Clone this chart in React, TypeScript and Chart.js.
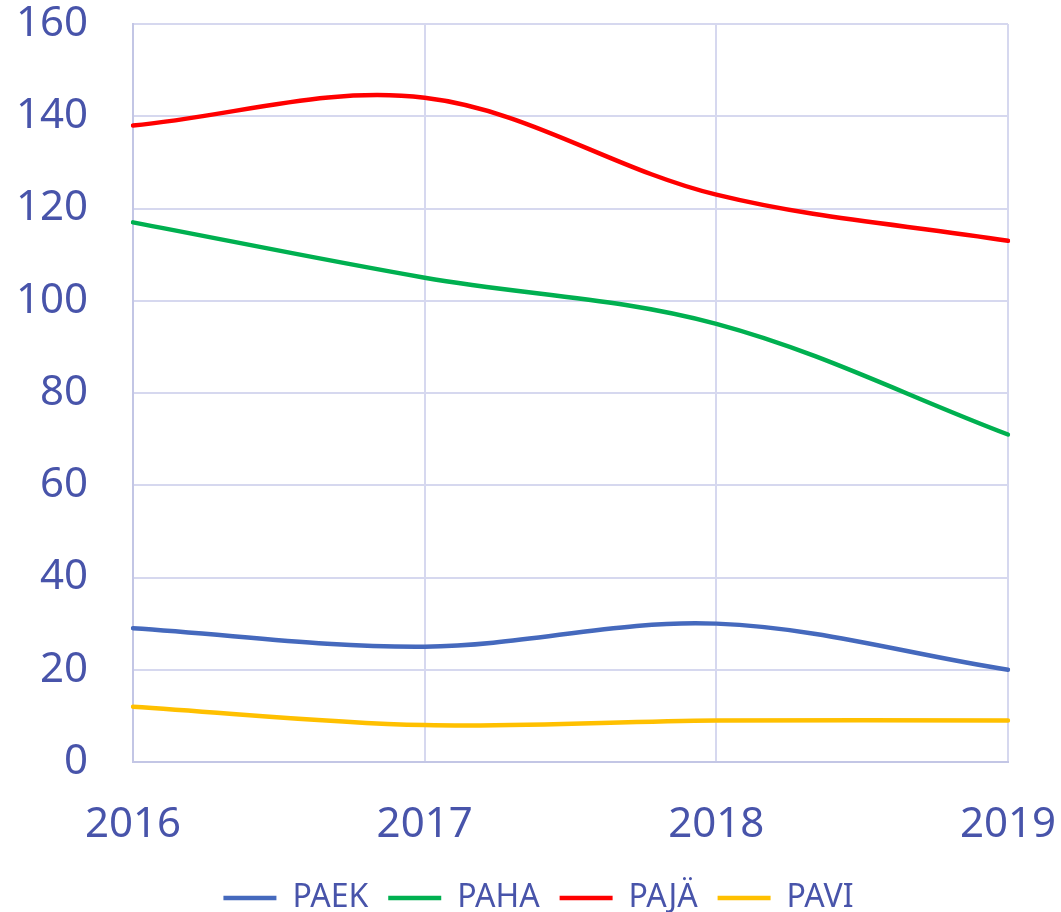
import React, { useEffect, useRef } from "react";
import { Chart, registerables } from "chart.js";

Chart.register(...registerables);

const years = ["2016", "2017", "2018", "2019"];
const paek = [29, 25, 30, 20];
const paha = [117, 105, 95, 71];
const paja = [138, 144, 123, 113];
const pavi = [12, 8, 9, 9];

const TEXT = "#4854aa";
const GRID = "#d6d8ef";
const AXIS = "#c3c6e5";

export default function App() {
  const ref = useRef<HTMLCanvasElement | null>(null);
  useEffect(() => {
    if (!ref.current) return;
    const mk = (label: string, data: number[], color: string) => ({
      label,
      data,
      borderColor: color,
      backgroundColor: color,
      borderWidth: 4.5,
      borderCapStyle: "round" as const,
      pointRadius: 0,
      pointHoverRadius: 0,
      pointStyle: "line" as const,
      tension: 0.35,
      fill: false,
    });
    const chart = new Chart(ref.current, {
      type: "line",
      data: {
        labels: years,
        datasets: [
          mk("PAEK", paek, "#4569BD"),
          mk("PAHA", paha, "#00B050"),
          mk("PAJÄ", paja, "#FF0000"),
          mk("PAVI", pavi, "#FFC000"),
        ],
      },
      options: {
        animation: false,
        responsive: true,
        maintainAspectRatio: false,
        layout: { padding: { left: 16, right: 0, top: 0, bottom: -12 } },
        plugins: {
          tooltip: { enabled: false },
          legend: {
            position: "bottom",
            labels: {
              usePointStyle: true,
              pointStyleWidth: 53,
              padding: 20,
              color: TEXT,
              font: { family: "'Noto Sans'", size: 32, lineHeight: 1 },
            },
          },
        },
        scales: {
          x: {
            offset: false,
            grid: { color: GRID, lineWidth: 2, drawTicks: false },
            border: { color: AXIS, width: 2 },
            ticks: {
              color: TEXT,
              padding: 38,
              maxRotation: 0,
              autoSkip: false,
              font: { family: "'Noto Sans'", size: 42 },
            },
            afterFit: (s: any) => {
              s.height = 100;
              s.paddingLeft = 0;
              s.paddingRight = 53;
            },
          },
          y: {
            min: 0,
            max: 160,
            grid: { color: GRID, lineWidth: 2, drawTicks: false },
            border: { color: AXIS, width: 2 },
            ticks: {
              stepSize: 20,
              color: TEXT,
              padding: 45,
              font: { family: "'Noto Sans'", size: 42 },
            },
            afterFit: (s: any) => {
              s.width = 117;
              s.paddingTop = 24;
              s.paddingBottom = 0;
            },
          },
        },
      },
    });
    return () => chart.destroy();
  }, []);
  return (
    <div style={{ position: "fixed", left: 0, top: 0, width: 1061, height: 912, background: "#fff" }}>
      <canvas ref={ref} />
    </div>
  );
}
